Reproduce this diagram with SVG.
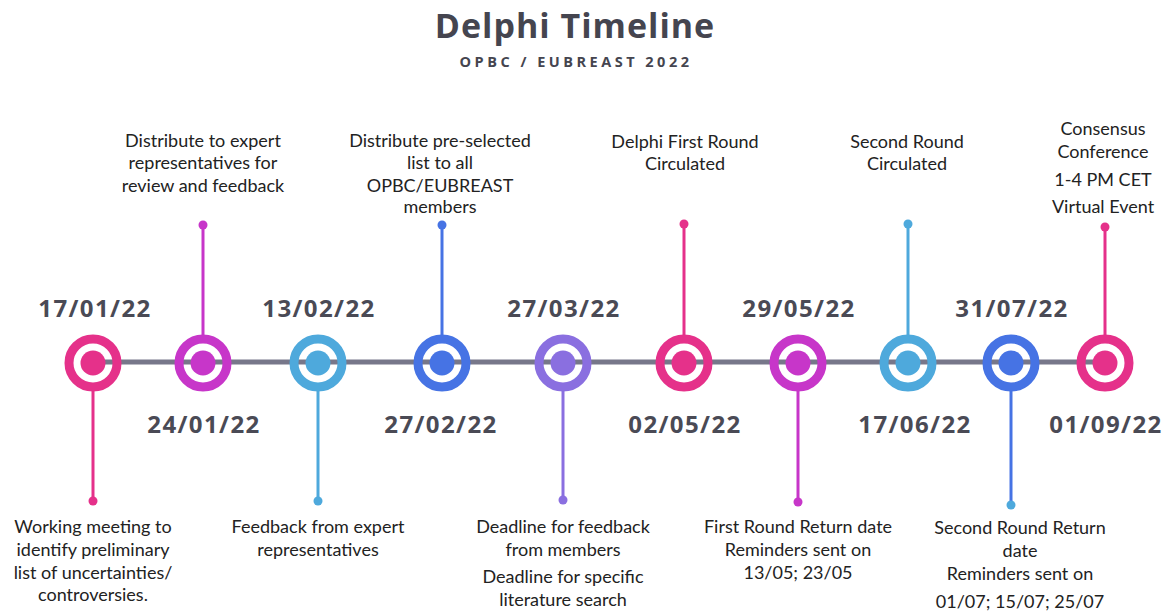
<svg xmlns="http://www.w3.org/2000/svg" width="1168" height="614" viewBox="0 0 1168 614">
<style>
.title{font-family:"Open Sans","DejaVu Sans",sans-serif;font-weight:700;fill:#45454f;text-anchor:middle}
.date{font-family:"Open Sans","DejaVu Sans",sans-serif;font-weight:700;font-size:24px;letter-spacing:1.4px;fill:#4a4a55;text-anchor:middle}
.desc{font-family:Lato,"Liberation Sans",sans-serif;font-size:18px;fill:#222;text-anchor:middle}
.ring{fill:none;stroke-width:9}
.stem{stroke-width:3}
</style>
<rect width="1168" height="614" fill="#fff"/>
<text class="title" x="575" y="38" font-size="34" letter-spacing="1">Delphi Timeline</text>
<text class="title" x="576" y="67" font-size="14.5" letter-spacing="3.5">OPBC / EUBREAST 2022</text>
<g id="connectors">
<line x1="93" y1="362" x2="1105" y2="362" stroke="#77778a" stroke-width="5"/>
<line class="stem" x1="93" y1="387" x2="93" y2="501" stroke="#e5318a"/><circle cx="93" cy="501" r="4.5" fill="#e5318a"/>
<line class="stem" x1="203" y1="338" x2="203" y2="225" stroke="#c736c9"/><circle cx="203" cy="225" r="4.5" fill="#c736c9"/>
<line class="stem" x1="318" y1="387" x2="318" y2="501" stroke="#4ea9dc"/><circle cx="318" cy="501" r="4.5" fill="#4ea9dc"/>
<line class="stem" x1="442" y1="338" x2="442" y2="225" stroke="#4673e4"/><circle cx="442" cy="225" r="4.5" fill="#4673e4"/>
<line class="stem" x1="563" y1="387" x2="563" y2="500" stroke="#8a6fe0"/><circle cx="563" cy="500" r="4.5" fill="#8a6fe0"/>
<line class="stem" x1="684" y1="338" x2="684" y2="224" stroke="#e5318a"/><circle cx="684" cy="224" r="4.5" fill="#e5318a"/>
<line class="stem" x1="798" y1="387" x2="798" y2="502" stroke="#c736c9"/><circle cx="798" cy="502" r="4.5" fill="#c736c9"/>
<line class="stem" x1="908" y1="338" x2="908" y2="224" stroke="#4ea9dc"/><circle cx="908" cy="224" r="4.5" fill="#4ea9dc"/>
<line class="stem" x1="1011" y1="387" x2="1011" y2="505" stroke="#4673e4"/><circle cx="1011" cy="505" r="4.5" fill="#4ea9dc"/>
<line class="stem" x1="1105" y1="338" x2="1105" y2="227" stroke="#e5318a"/><circle cx="1105" cy="227" r="4.5" fill="#e5318a"/>
</g>
<g id="n1"><circle class="ring" cx="93" cy="363" r="24" stroke="#e5318a"/><circle cx="93" cy="363" r="12.5" fill="#e5318a"/>
<text class="date" x="95" y="317">17/01/22</text>
<text class="desc" x="93" y="533">Working meeting to</text><text class="desc" x="93" y="556">identify preliminary</text><text class="desc" x="93" y="579">list of uncertainties/</text><text class="desc" x="93" y="601">controversies.</text></g>
<g id="n2"><circle class="ring" cx="203" cy="363" r="24" stroke="#c736c9"/><circle cx="203" cy="363" r="12.5" fill="#c736c9"/>
<text class="date" x="204" y="433">24/01/22</text>
<text class="desc" x="203" y="147">Distribute to expert</text><text class="desc" x="203" y="169">representatives for</text><text class="desc" x="203" y="192">review and feedback</text></g>
<g id="n3"><circle class="ring" cx="318" cy="363" r="24" stroke="#4ea9dc"/><circle cx="318" cy="363" r="12.5" fill="#4ea9dc"/>
<text class="date" x="319" y="317">13/02/22</text>
<text class="desc" x="318" y="533">Feedback from expert</text><text class="desc" x="318" y="556">representatives</text></g>
<g id="n4"><circle class="ring" cx="442" cy="363" r="24" stroke="#4673e4"/><circle cx="442" cy="363" r="12.5" fill="#4673e4"/>
<text class="date" x="441" y="433">27/02/22</text>
<text class="desc" x="440" y="147">Distribute pre-selected</text><text class="desc" x="440" y="169">list to all</text><text class="desc" x="440" y="192">OPBC/EUBREAST</text><text class="desc" x="440" y="213">members</text></g>
<g id="n5"><circle class="ring" cx="563" cy="363" r="24" stroke="#8a6fe0"/><circle cx="563" cy="363" r="12.5" fill="#8a6fe0"/>
<text class="date" x="564" y="317">27/03/22</text>
<text class="desc" x="563" y="533">Deadline for feedback</text><text class="desc" x="563" y="556">from members</text><text class="desc" x="563" y="583">Deadline for specific</text><text class="desc" x="563" y="606">literature search</text></g>
<g id="n6"><circle class="ring" cx="684" cy="363" r="24" stroke="#e5318a"/><circle cx="684" cy="363" r="12.5" fill="#e5318a"/>
<text class="date" x="685" y="433">02/05/22</text>
<text class="desc" x="685" y="148">Delphi First Round</text><text class="desc" x="685" y="170">Circulated</text></g>
<g id="n7"><circle class="ring" cx="798" cy="363" r="24" stroke="#c736c9"/><circle cx="798" cy="363" r="12.5" fill="#c736c9"/>
<text class="date" x="799" y="317">29/05/22</text>
<text class="desc" x="798" y="533">First Round Return date</text><text class="desc" x="798" y="556">Reminders sent on</text><text class="desc" x="798" y="579">13/05; 23/05</text></g>
<g id="n8"><circle class="ring" cx="908" cy="363" r="24" stroke="#4ea9dc"/><circle cx="908" cy="363" r="12.5" fill="#4ea9dc"/>
<text class="date" x="915" y="433">17/06/22</text>
<text class="desc" x="907" y="148">Second Round</text><text class="desc" x="907" y="170">Circulated</text></g>
<g id="n9"><circle class="ring" cx="1011" cy="363" r="24" stroke="#4673e4"/><circle cx="1011" cy="363" r="12.5" fill="#4673e4"/>
<text class="date" x="1012" y="317">31/07/22</text>
<text class="desc" x="1020" y="534">Second Round Return</text><text class="desc" x="1020" y="557">date</text><text class="desc" x="1020" y="580">Reminders sent on</text><text class="desc" x="1020" y="608">01/07; 15/07; 25/07</text></g>
<g id="n10"><circle class="ring" cx="1105" cy="363" r="24" stroke="#e5318a"/><circle cx="1105" cy="363" r="12.5" fill="#e5318a"/>
<text class="date" x="1106" y="433">01/09/22</text>
<text class="desc" x="1103" y="135">Consensus</text><text class="desc" x="1103" y="158">Conference</text><text class="desc" x="1103" y="186">1-4 PM CET</text><text class="desc" x="1103" y="213">Virtual Event</text></g>
</svg>
